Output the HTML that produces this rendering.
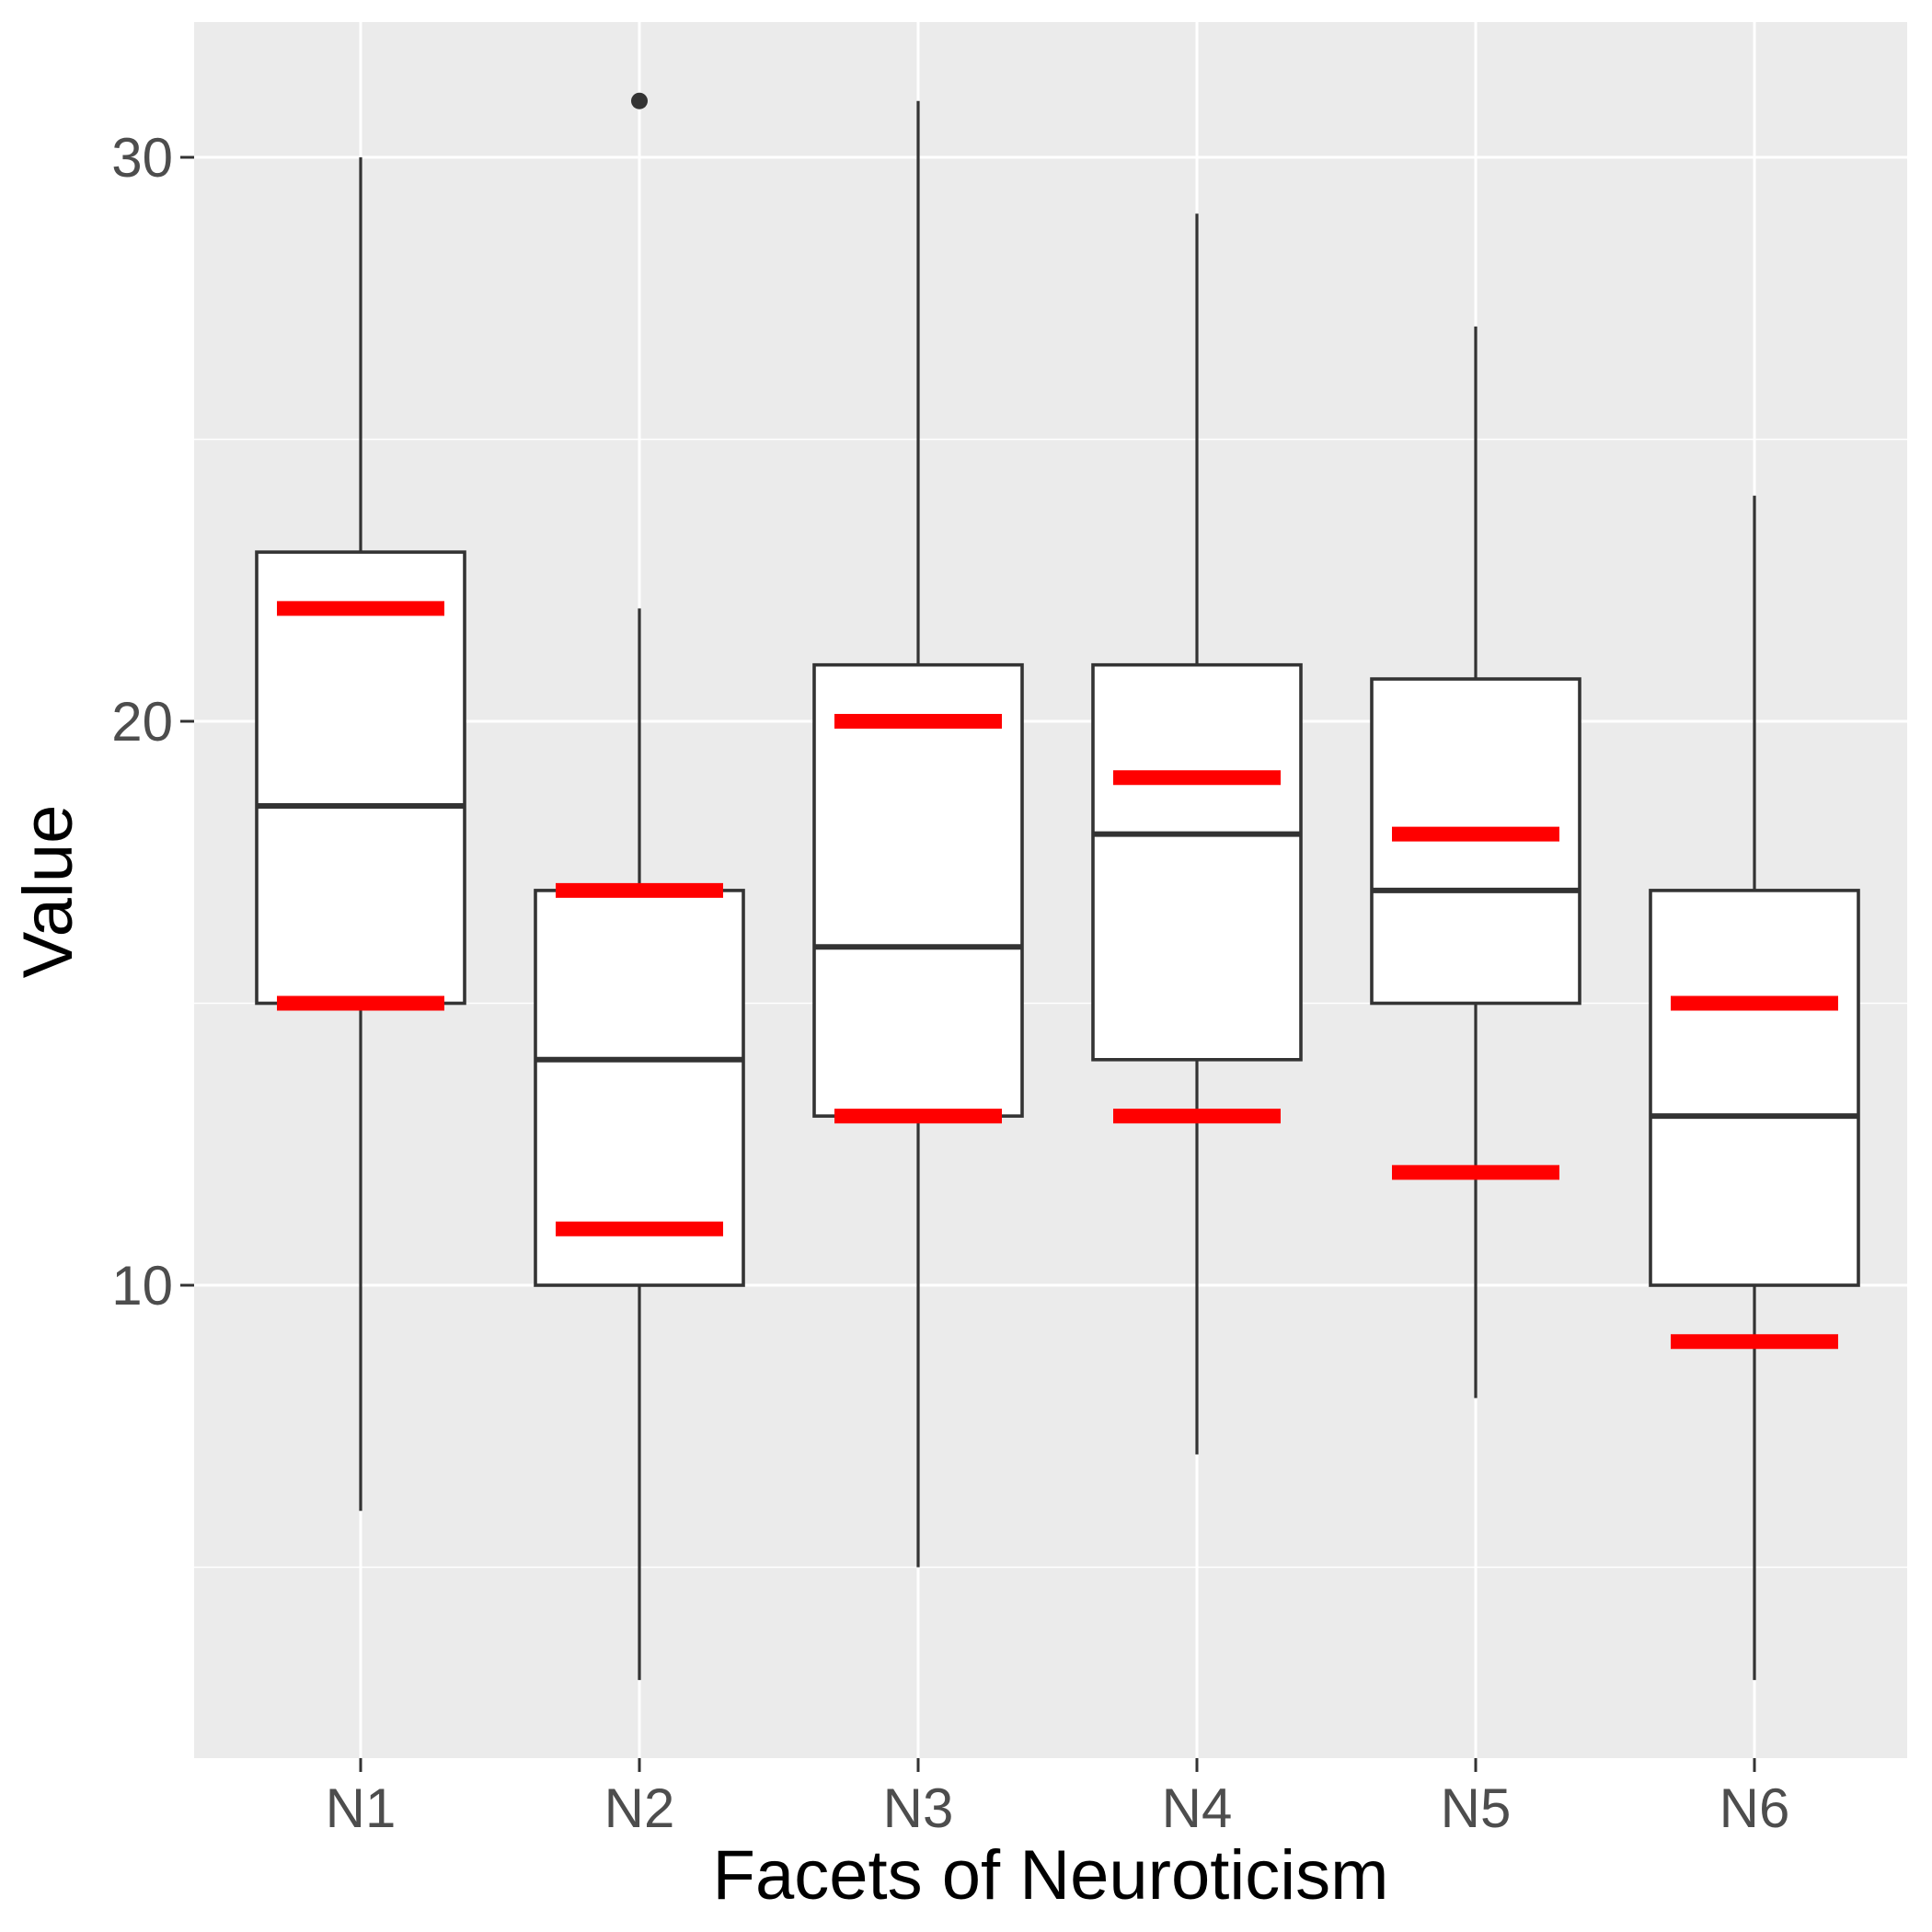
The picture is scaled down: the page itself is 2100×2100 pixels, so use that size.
<!DOCTYPE html>
<html><head><meta charset="utf-8"><style>
body{margin:0;background:#fff}
svg{display:block;font-family:"Liberation Sans",sans-serif}
</style></head><body>
<svg id="chart" width="2100" height="2100" viewBox="0 0 2100 2100" xmlns="http://www.w3.org/2000/svg">
<rect x="211" y="24" width="1862" height="1887" fill="#ebebeb"/>
<g id="grid"></g><g id="marks"></g><g id="axes"></g>
<text x="1142" y="2064" font-size="76" text-anchor="middle" fill="#000">Facets of Neuroticism</text>
<text transform="translate(78,969) rotate(-90)" font-size="76" text-anchor="middle" fill="#000">Value</text>
</svg>
<script>
const categories=["N1","N2","N3","N4","N5","N6"];
const whiskerHigh=[30,22,31,29,27,24];
const q3=[23,17,21,21,20.75,17];
const medians=[18.5,14,16,18,17,13];
const q1=[15,10,13,14,15,10];
const whiskerLow=[6,3,5,7,8,3];
const redHigh=[22,17,20,19,18,15];
const redLow=[15,11,13,13,12,9];
const outliersCat=["N2"];
const outliersVal=[31];
const yTicks=[10,20,30];
const yMinor=[5,15,25];

const NS="http://www.w3.org/2000/svg";
const y=v=>1397-(v-10)*61.3;
const x=i=>392+i*303;
function mk(parent,tag,attrs){const e=document.createElementNS(NS,tag);for(const k in attrs)e.setAttribute(k,attrs[k]);document.getElementById(parent).appendChild(e);return e;}

yMinor.forEach(v=>{const e=mk('grid','line',{x1:211,x2:2073,y1:y(v),y2:y(v),stroke:'#fff','stroke-width':1.6});

});
yTicks.forEach(v=>{const e=mk('grid','line',{x1:211,x2:2073,y1:y(v),y2:y(v),stroke:'#fff','stroke-width':3});


const t=mk('axes','line',{x1:196,x2:211,y1:y(v),y2:y(v),stroke:'#333','stroke-width':3});


const l=mk('axes','text',{x:188,y:y(v)+21,'font-size':60,'text-anchor':'end',fill:'#4d4d4d'});l.textContent=v;

});
categories.forEach((c,i)=>{const e=mk('grid','line',{x1:x(i),x2:x(i),y1:24,y2:1911,stroke:'#fff','stroke-width':3});


const t=mk('axes','line',{x1:x(i),x2:x(i),y1:1911,y2:1926,stroke:'#333','stroke-width':3});


const l=mk('axes','text',{x:x(i),y:1986,'font-size':60,'text-anchor':'middle',fill:'#4d4d4d'});l.textContent=c;



const w=mk('marks','line',{x1:x(i),x2:x(i),y1:y(whiskerHigh[i]),y2:y(whiskerLow[i]),stroke:'#333','stroke-width':3.2});


const b=mk('marks','rect',{x:x(i)-113,y:y(q3[i]),width:226,height:y(q1[i])-y(q3[i]),fill:'#fff',stroke:'#333','stroke-width':3.6});


const m=mk('marks','line',{x1:x(i)-113,x2:x(i)+113,y1:y(medians[i]),y2:y(medians[i]),stroke:'#333','stroke-width':6});


[redHigh[i],redLow[i]].forEach((v,k)=>{const r=mk('marks','line',{x1:x(i)-91,x2:x(i)+91,y1:y(v),y2:y(v),stroke:'#ff0000','stroke-width':16});

});
});
outliersCat.forEach((c,k)=>{const i=categories.indexOf(c);const o=mk('marks','circle',{cx:x(i),cy:y(outliersVal[k]),r:9,fill:'#333'});

});
</script>
</body></html>
